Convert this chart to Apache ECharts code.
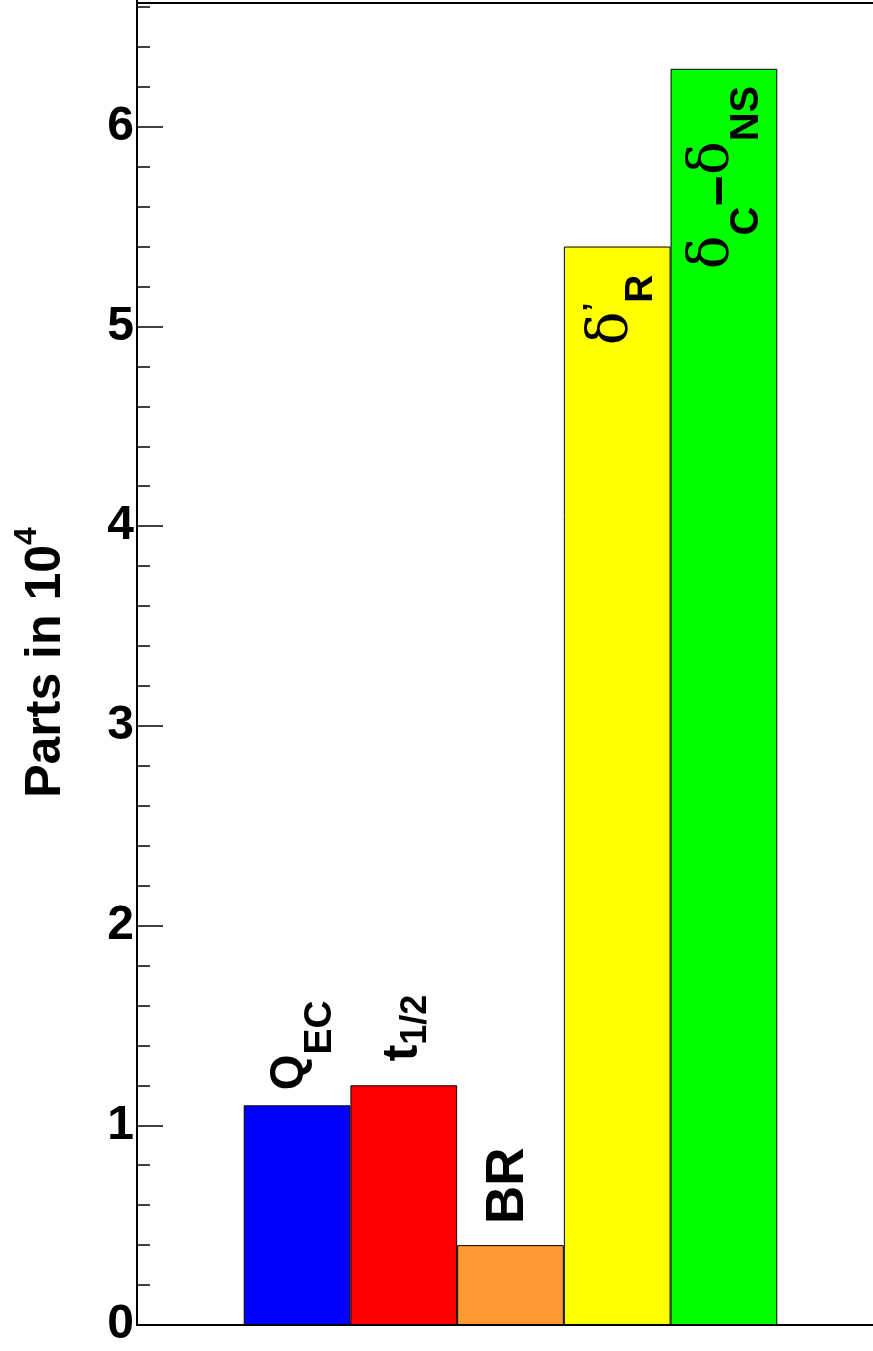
<!DOCTYPE html>
<html><head><meta charset="utf-8">
<script src="https://cdn.jsdelivr.net/npm/echarts@6/dist/echarts.min.js"></script>
<style>html,body{margin:0;padding:0;background:#fff}#c{width:873px;height:1351px}</style>
</head><body><div id="c"></div>
<script>
// ---- data ----
const categories = ['', 'Q_EC', 't_1/2', 'BR', "δ'_R", 'δ_C−δ_NS', ''];
const values = [null, 1.1, 1.2, 0.4, 5.4, 6.29, null];
const barLabels = ['', '{m|Q}{s|EC}', '{m|t}{s|1/2}', '{m|BR}', '{d|δ}{p|’}{s|R}', '{d|δ}{s|C}{n|−}{d|δ}{s|NS}', ''];
const yTickLabels = ['0', '1', '2', '3', '4', '5', '6'];
const yTitle = '{a|Parts in 10}{b|4}';
const yFrameTop = 6.617;

// ---- styles ----
const barColors = [null, '#0000ff', '#ff0000', '#ff9933', '#ffff00', '#00ff00', null];
const SANS = 'Liberation Sans';
const SERIF = 'DejaVu Serif';
function tk(size, pad, family, weight, padB) {
  return {fontFamily: family || SANS, fontWeight: weight || 'bold', fontSize: size,
          color: '#000', verticalAlign: 'top', padding: [pad, 0, padB || 0, 0]};
}
const labelLayouts = [
  null,
  {position: 'top', align: 'left', distance: 15, rich: {m: tk(46, 12), s: tk(39, 45.7)}},
  {position: 'top', align: 'left', distance: 24, rich: {m: tk(50, 4), s: tk(36, 24)}},
  {position: 'top', align: 'left', distance: 21, rich: {m: tk(53, 0, SANS, 'bold', 5)}},
  {position: 'insideTop', align: 'right', distance: 28, rich: {d: tk(56, 10, SERIF, 'normal'), p: tk(32, 6), s: tk(39, 47.1)}},
  {position: 'insideTop', align: 'right', distance: 17, rich: {d: tk(56, 4.7, SERIF, 'normal'), s: tk(40, 46.6), n: tk(54, 14)}},
  null
];

const seriesData = values.map((v, i) => {
  if (v === null) return {value: null};
  const L = labelLayouts[i];
  return {
    value: v,
    itemStyle: {color: barColors[i]},
    label: {show: true, formatter: barLabels[i], rotate: 90, position: L.position,
            align: L.align, verticalAlign: 'middle', distance: L.distance, rich: L.rich}
  };
});

const chart = echarts.init(document.getElementById('c'), null, {renderer: 'canvas'});
chart.setOption({
  animation: false,
  backgroundColor: '#fff',
  grid: {left: 137, bottom: 26, width: 747, height: 1398, show: false, containLabel: false, outerBoundsMode: 'none'},
  xAxis: {
    type: 'category', data: categories, boundaryGap: true,
    axisLine: {show: true, lineStyle: {color: '#000', width: 2}},
    axisTick: {show: false}, axisLabel: {show: false}, splitLine: {show: false}
  },
  yAxis: {
    type: 'value', min: 0, max: 7, interval: 1,
    name: yTitle, nameLocation: 'middle', nameGap: 65.5, nameRotate: 90,
    nameTextStyle: {padding: [0, 73, 0, 0], rich: {a: tk(50, 10.1), b: tk(32, 0)}},
    axisLine: {show: true, lineStyle: {color: '#000', width: 2}},
    axisTick: {show: true, inside: true, length: 26, lineStyle: {color: '#000', width: 1.5}},
    minorTick: {show: true, splitNumber: 5, length: 13, lineStyle: {color: '#000', width: 1.5}},
    axisLabel: {show: true, margin: 3, fontFamily: SANS, fontWeight: 'bold', fontSize: 48, color: '#000',
                padding: [10, 0, 0, 0],
                formatter: v => (yTickLabels[v] !== undefined ? yTickLabels[v] : '')},
    splitLine: {show: false}, minorSplitLine: {show: false}
  },
  series: [{
    type: 'bar', data: seriesData, barWidth: '100%', barCategoryGap: '0%',
    itemStyle: {borderColor: '#000', borderWidth: 1},
    label: {show: false},
    markLine: {
      silent: true, symbol: ['none', 'none'], animation: false,
      label: {show: false},
      lineStyle: {color: '#000', width: 2, type: 'solid'},
      emphasis: {disabled: true},
      data: [{yAxis: yFrameTop}]
    }
  }]
});
</script></body></html>
